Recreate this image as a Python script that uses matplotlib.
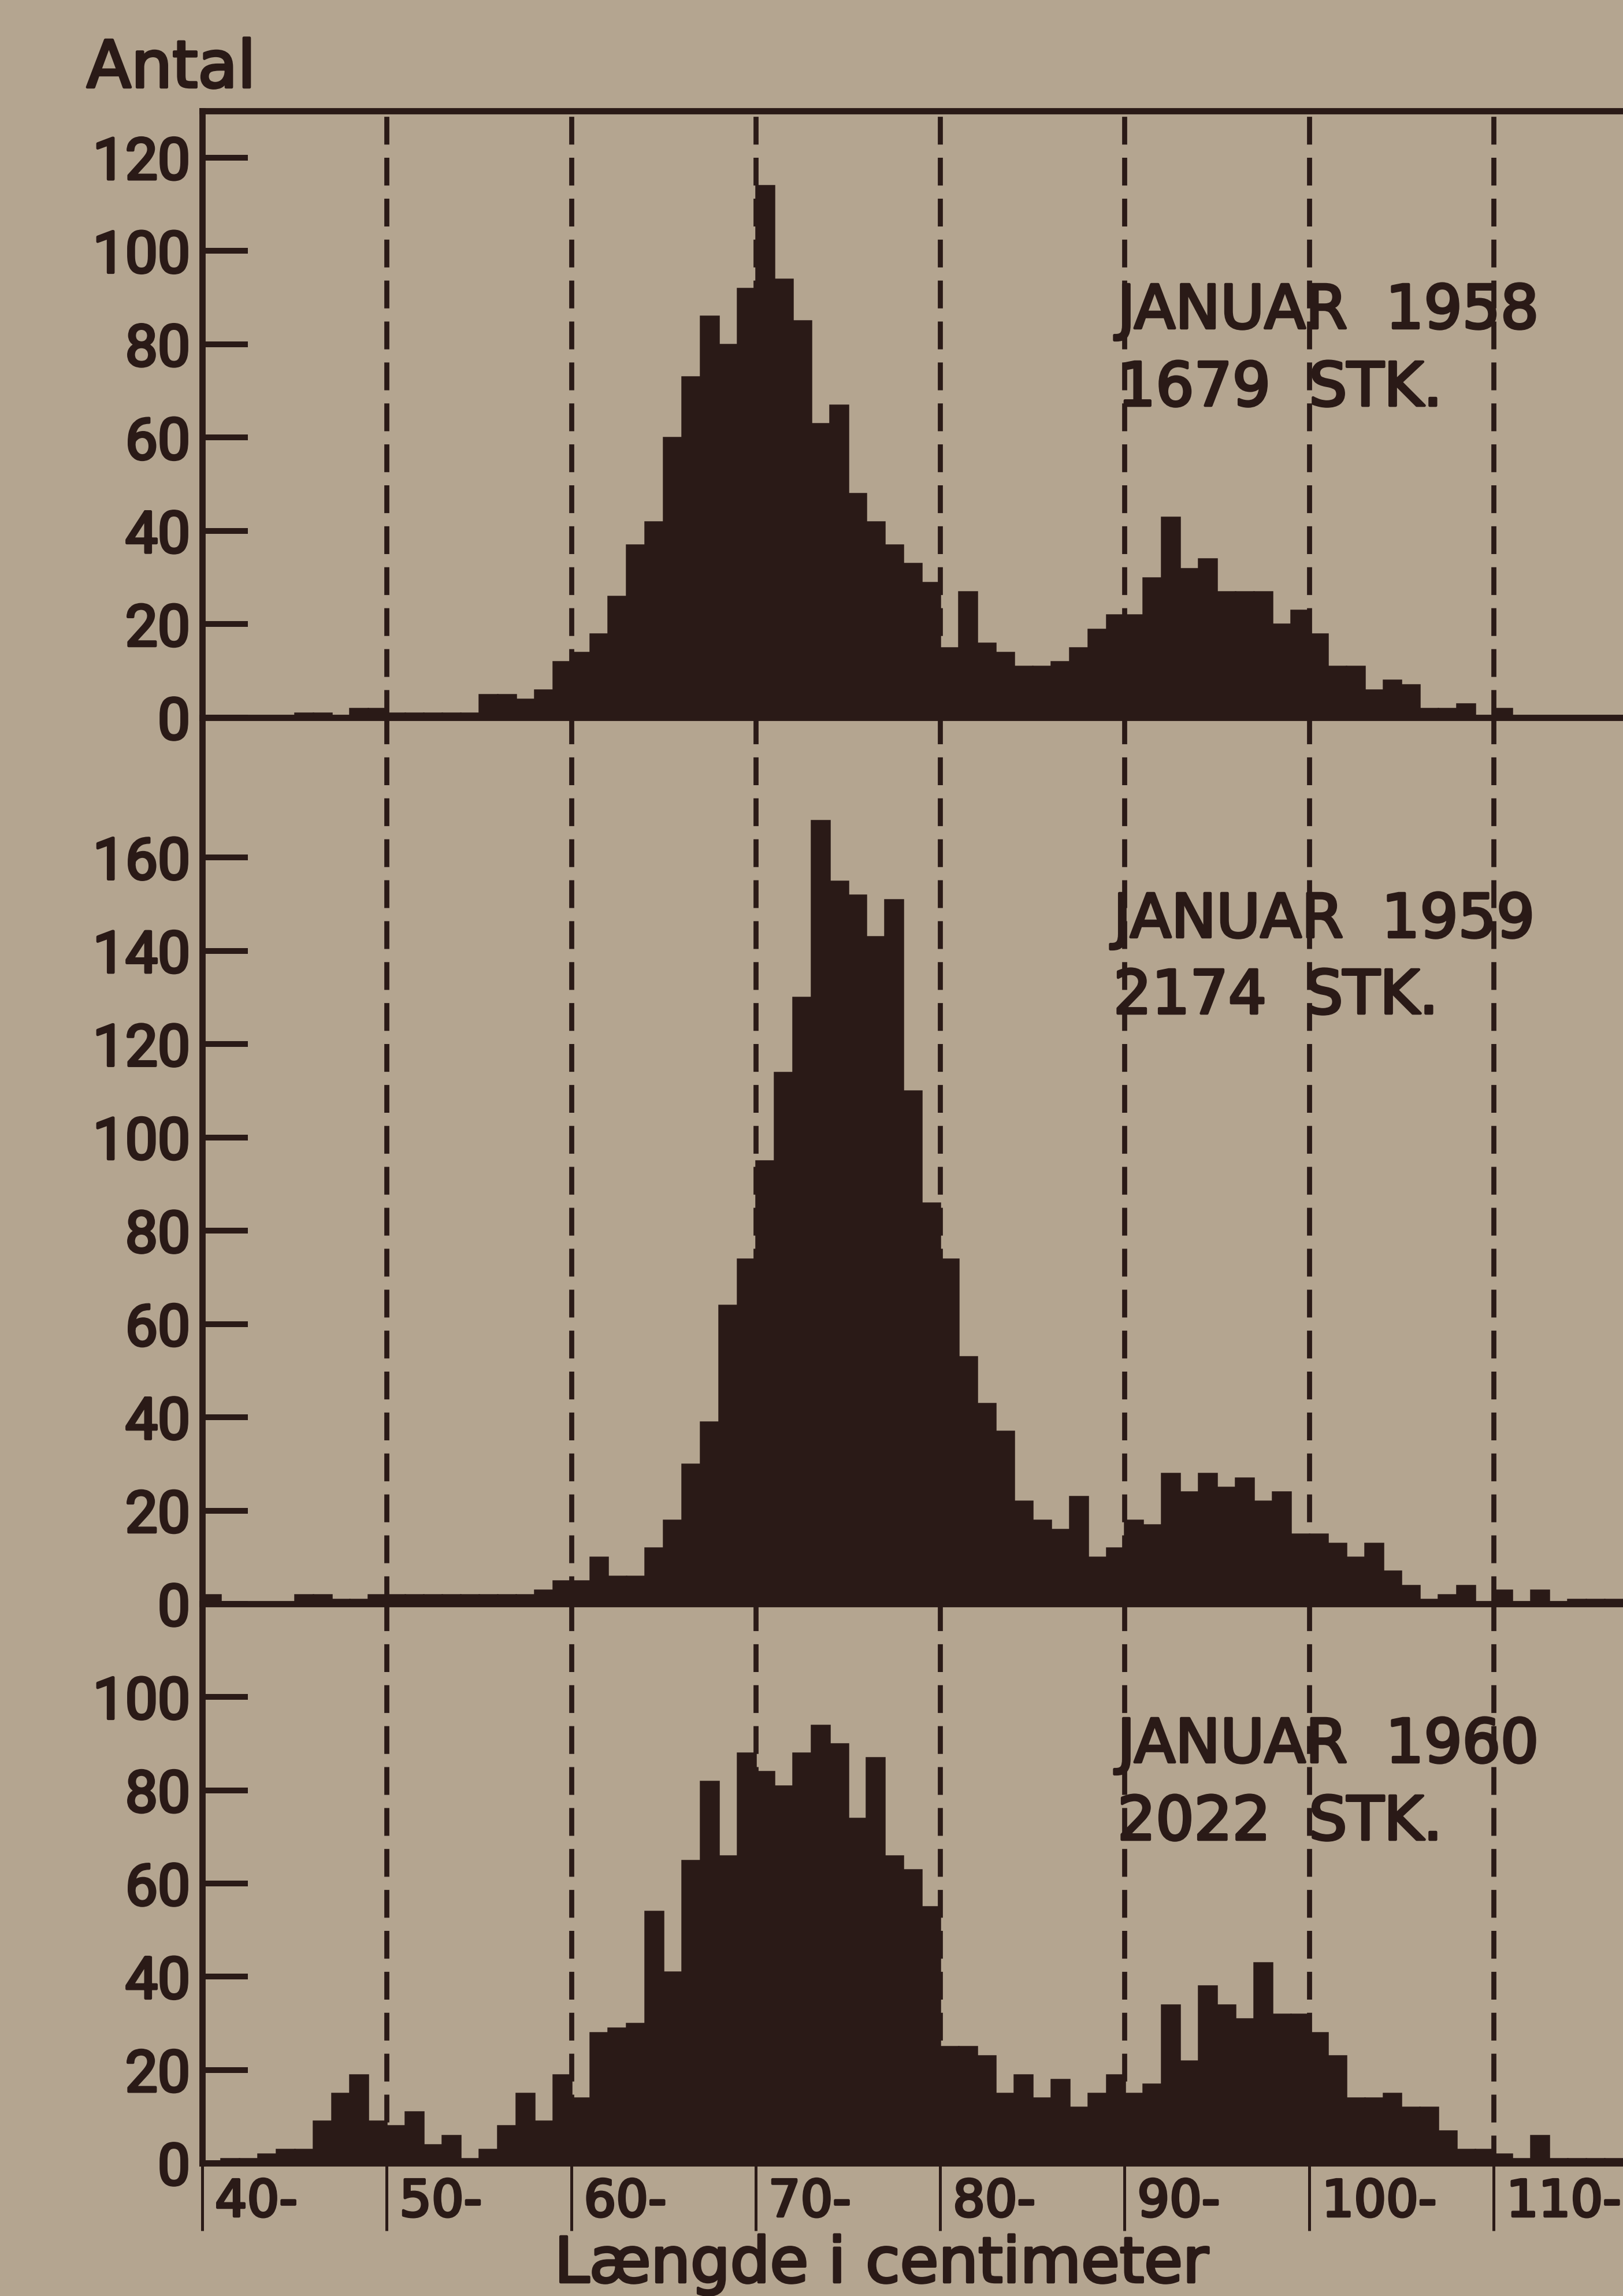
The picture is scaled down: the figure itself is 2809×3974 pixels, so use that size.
import matplotlib
matplotlib.use("Agg")
import matplotlib.pyplot as plt
import matplotlib.patheffects as pe

# ---------------- data (bins of 1 cm, left edges 40..116) ----------------
bin_left = list(range(40, 117))

counts_1958 = [0, 0, 0, 0, 0, 1, 1, 0, 2, 2,        # 40-49
               1, 1, 1, 1, 1, 5, 5, 4, 6, 12,       # 50-59
               14, 18, 26, 37, 42, 60, 73, 86, 80, 92,   # 60-69
               114, 94, 85, 63, 67, 48, 42, 37, 33, 29,  # 70-79
               15, 27, 16, 14, 11, 11, 12, 15, 19, 22,   # 80-89
               22, 30, 43, 32, 34, 27, 27, 27, 20, 23,   # 90-99
               18, 11, 11, 6, 8, 7, 2, 2, 3, 0,          # 100-109
               2, 0, 0, 0, 0, 0, 0]                      # 110-116

counts_1959 = [2, 0, 0, 0, 0, 2, 2, 1, 1, 2,
               2, 2, 2, 2, 2, 2, 2, 2, 3, 5,
               5, 10, 6, 6, 12, 18, 30, 39, 64, 74,
               95, 114, 130, 168, 155, 152, 143, 151, 110, 86,
               74, 53, 43, 37, 22, 18, 16, 23, 10, 12,
               18, 17, 28, 24, 28, 25, 27, 22, 24, 15,
               15, 13, 10, 13, 7, 4, 1, 2, 4, 0,
               3, 0, 3, 0, 1, 1, 1]

counts_1960 = [0, 1, 1, 2, 3, 3, 9, 15, 19, 9,
               8, 11, 4, 6, 1, 3, 8, 15, 9, 19,
               14, 28, 29, 30, 54, 41, 65, 82, 66, 88,
               84, 81, 88, 94, 90, 74, 87, 66, 63, 55,
               25, 25, 23, 15, 19, 14, 18, 12, 15, 19,
               15, 17, 34, 22, 38, 34, 31, 43, 32, 32,
               28, 23, 14, 14, 15, 12, 12, 7, 3, 3,
               2, 1, 6, 1, 1, 1, 1]

panel_titles = ["JANUAR  1958", "JANUAR  1959", "JANUAR  1960"]
panel_counts_text = ["1679  STK.", "2174  STK.", "2022  STK."]
yticks_1958 = [0, 20, 40, 60, 80, 100, 120]
yticks_1959 = [0, 20, 40, 60, 80, 100, 120, 140, 160]
yticks_1960 = [0, 20, 40, 60, 80, 100]
xtick_values = [40, 50, 60, 70, 80, 90, 100, 110]
xtick_labels = ["40-", "50-", "60-", "70-", "80-", "90-", "100-", "110-"]
dashed_at = [50, 60, 70, 80, 90, 100, 110]
y_label = "Antal"
x_label = "Længde i centimeter"

# ---------------- styling ----------------
BG = "#b4a590"
INK = "#2a1a17"
W, H, DPI = 2809, 3974, 300
BOLD = [pe.withStroke(linewidth=1.1, foreground=INK)]

fig = plt.figure(figsize=(W / DPI, H / DPI), dpi=DPI)
fig.patch.set_facecolor(BG)

x_left_px = 350
px_per_cm = 31.93
xmax = 40 + (W - x_left_px) / px_per_cm

# panel pixel bounds (top, bottom)
bounds = [(192, 1242), (1242, 2776), (2776, 3744)]
ylims = [130, 190, 120]
all_counts = [counts_1958, counts_1959, counts_1960]
all_yticks = [yticks_1958, yticks_1959, yticks_1960]
# text baselines in pixels (x start, line1, line2)
text_pos = [(1934, 568, 702), (1927, 1622, 1754), (1934, 3050, 3184)]

for i, ((top, bot), ylim, counts, yt) in enumerate(zip(bounds, ylims, all_counts, all_yticks)):
    ax = fig.add_axes([x_left_px / W, 1 - bot / H, 1 - x_left_px / W, (bot - top) / H])
    ax.patch.set_visible(False)
    ax.set_xlim(40, xmax)
    ax.set_ylim(0, ylim)
    for xv in dashed_at:
        ax.axvline(xv, color=INK, lw=2.1, ls=(0, (5.5, 2.6)), zorder=1)
    ax.bar(bin_left, counts, width=1.0, align="edge", color=INK,
           edgecolor=INK, linewidth=0.6, zorder=3)
    ax.spines["right"].set_visible(False)
    ax.spines["top"].set_visible(i == 0)
    for s in ["left", "bottom", "top"]:
        ax.spines[s].set_linewidth(2.6)
        ax.spines[s].set_color(INK)
        ax.spines[s].set_zorder(5)
    ax.set_yticks(yt)
    labels = ax.set_yticklabels([str(v) for v in yt], family="Roboto",
                                fontsize=24, color=INK)
    for t in labels:
        t.set_path_effects(BOLD)
    ax.tick_params(axis="y", direction="in", length=19, width=2.4, pad=5,
                   color=INK)
    if i < 2:
        ax.set_xticks([])
    else:
        ax.set_xticks(xtick_values)
        ax.set_xticklabels([])
        ax.tick_params(axis="x", direction="out", length=28, width=1.2,
                       color=INK)
        for xv, lab in zip(xtick_values, xtick_labels):
            ax.annotate(lab, xy=(xv, 0), xycoords=("data", "axes fraction"),
                        xytext=(22, -68), textcoords="offset pixels",
                        ha="left", va="center", fontsize=21,
                        family="DejaVu Sans", color=INK, path_effects=BOLD)
    tx, b1, b2 = text_pos[i]
    fig.text(tx / W, 1 - b1 / H, panel_titles[i], fontsize=25,
             family="DejaVu Sans", color=INK, va="baseline", ha="left",
             path_effects=BOLD)
    fig.text(tx / W, 1 - b2 / H, panel_counts_text[i], fontsize=25,
             family="DejaVu Sans", color=INK, va="baseline", ha="left",
             path_effects=BOLD)

fig.text(150 / W, 1 - 151 / H, y_label, fontsize=27, family="DejaVu Sans",
         color=INK, va="baseline", ha="left", path_effects=BOLD)
fig.text(1526 / W, 1 - 3950 / H, x_label, fontsize=26, family="DejaVu Sans",
         color=INK, va="baseline", ha="center", path_effects=BOLD)

fig.savefig("out.png", dpi=DPI, facecolor=BG)
